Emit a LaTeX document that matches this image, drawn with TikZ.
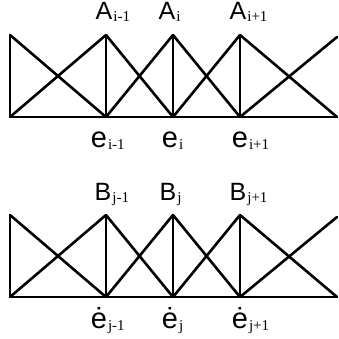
\documentclass[tikz,border=0pt]{standalone}
\usepackage{fontspec}
\setmainfont{Liberation Sans}
\newfontfamily\subf{Liberation Serif}
\newcommand{\lblA}[2]{#1\rlap{\raisebox{-2pt}{\subf\fontsize{15}{15}\selectfont\kern1pt #2}}}
\begin{document}
\begin{tikzpicture}[x=1pt,y=-1pt,
  ln/.style={line width=2.6pt,line cap=round,line join=round},
  vl/.style={line width=1.8pt},
  toplbl/.style={anchor=base,inner sep=0pt,font=\fontsize{25}{25}\selectfont},
  botlbl/.style={anchor=base,inner sep=0pt,font=\fontsize{29}{29}\selectfont}]
\useasboundingbox (0,0) rectangle (338,339);
% top diagram
\foreach \n/\x in {L/10,a/106,b/173,c/240,R/337}{
  \coordinate (t\n) at (\x,35);
  \coordinate (b\n) at (\x,117);
}
\coordinate (tR) at (337,37);
\draw[vl] (tL) -- (bL);
\draw[vl] (ta) -- (ba);
\draw[vl] (tb) -- (bb);
\draw[vl] (tc) -- (bc);
\draw[ln] (bL) -- (bR);
\draw[ln] (tL) -- (ba);
\draw[ln] (bL) -- (ta);
\draw[ln] (ta) -- (bb);
\draw[ln] (ba) -- (tb);
\draw[ln] (tb) -- (bc);
\draw[ln] (bb) -- (tc);
\draw[ln] (tc) -- (bR);
\draw[ln] (bc) -- (tR);
\node[toplbl] (A1) at (104,20) {\lblA{A}{i-1}};
\node[toplbl] (A2) at (167,20) {\lblA{A}{i}};
\node[toplbl] (A3) at (238,20) {\lblA{A}{i+1}};
\node[botlbl] (e1) at (99,147) {\lblA{e}{i-1}};
\node[botlbl] (e2) at (170,147) {\lblA{e}{i}};
\node[botlbl] (e3) at (240,147) {\lblA{e}{i+1}};
% bottom diagram
\foreach \n/\x in {L/10,a/106,b/173,c/240,R/337}{
  \coordinate (u\n) at (\x,215);
  \coordinate (d\n) at (\x,297);
}
\coordinate (uR) at (337,217);
\draw[vl] (uL) -- (dL);
\draw[vl] (ua) -- (da);
\draw[vl] (ub) -- (db);
\draw[vl] (uc) -- (dc);
\draw[ln] (dL) -- (dR);
\draw[ln] (uL) -- (da);
\draw[ln] (dL) -- (ua);
\draw[ln] (ua) -- (db);
\draw[ln] (da) -- (ub);
\draw[ln] (ub) -- (dc);
\draw[ln] (db) -- (uc);
\draw[ln] (uc) -- (dR);
\draw[ln] (dc) -- (uR);
\node[toplbl] (B1) at (103,200) {\lblA{B}{j-1}};
\node[toplbl] (B2) at (168,200) {\lblA{B}{j}};
\node[toplbl] (B3) at (238,200) {\lblA{B}{j+1}};
\node[botlbl] (f1) at (99,328) {\lblA{ė}{j-1}};
\node[botlbl] (f2) at (170,328) {\lblA{ė}{j}};
\node[botlbl] (f3) at (240,328) {\lblA{ė}{j+1}};
\end{tikzpicture}
\end{document}
